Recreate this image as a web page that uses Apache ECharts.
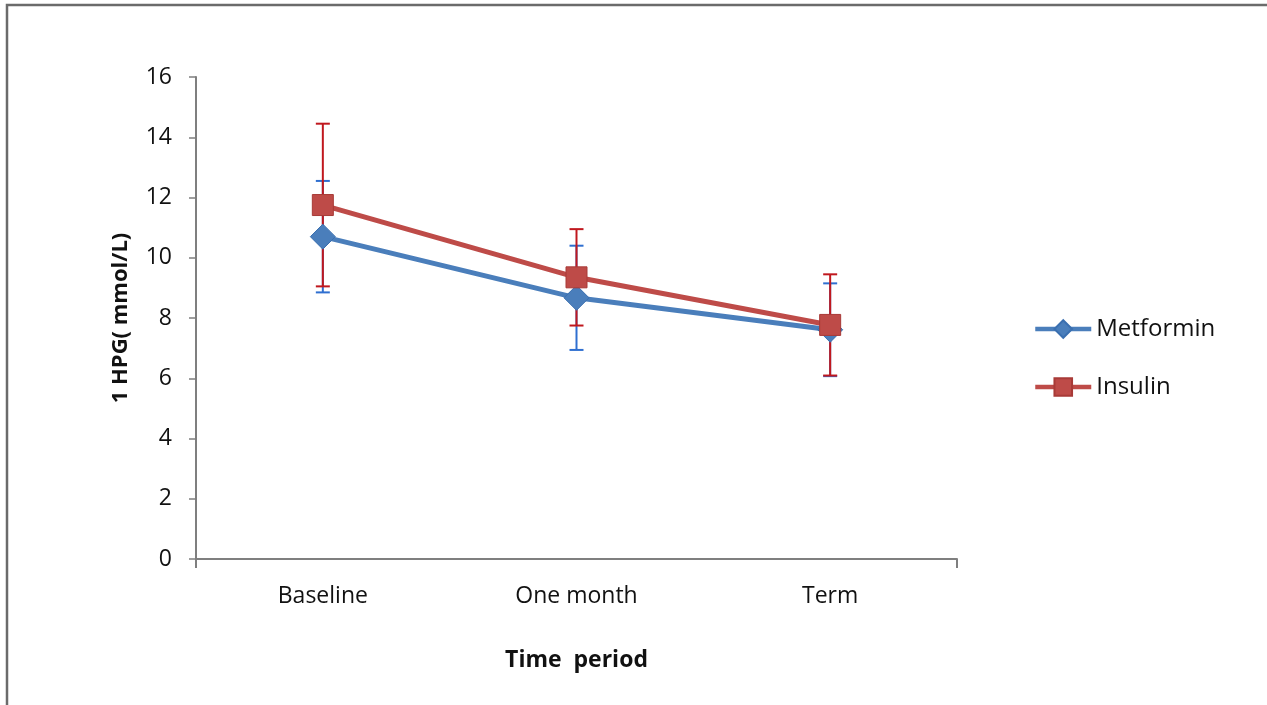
<!DOCTYPE html>
<html><head><meta charset="utf-8">
<script src="https://cdn.jsdelivr.net/npm/echarts@6/dist/echarts.min.js"></script>
<style>html,body{margin:0;padding:0;background:#fff}#c{width:1267px;height:705px}</style>
</head><body><div id="c"></div>
<script>
var categories = ['Baseline', 'One month', 'Term'];
var metforminMean = [10.7, 8.67, 7.61];
var metforminErr = [1.85, 1.73, 1.54];
var insulinMean = [11.75, 9.35, 7.77];
var insulinErr = [2.7, 1.6, 1.68];
var yTicks = [0, 2, 4, 6, 8, 10, 12, 14, 16];

var BLUE = '#4A7EBB', RED = '#BE4B48';
var BLUE_ERR = '#2F6FD0', RED_ERR = '#C0181E';
var FONT = 'Open Sans';

function errData(mean, err) {
  return mean.map(function (m, i) { return [i, m - err[i], m + err[i]]; });
}
function errSeries(name, mean, err, color) {
  return {
    type: 'custom', name: name + ' err', z: 1, silent: true,
    data: errData(mean, err),
    encode: { x: 0, y: [1, 2] },
    renderItem: function (params, api) {
      var lo = api.coord([api.value(0), api.value(1)]);
      var hi = api.coord([api.value(0), api.value(2)]);
      var w = 7;
      var st = { stroke: color, lineWidth: 2 };
      return { type: 'group', children: [
        { type: 'line', shape: { x1: lo[0], y1: lo[1], x2: hi[0], y2: hi[1] }, style: st },
        { type: 'line', shape: { x1: lo[0] - w, y1: lo[1], x2: lo[0] + w, y2: lo[1] }, style: st },
        { type: 'line', shape: { x1: hi[0] - w, y1: hi[1], x2: hi[0] + w, y2: hi[1] }, style: st }
      ]};
    }
  };
}

var chart = echarts.init(document.getElementById('c'));
chart.setOption({
  animation: false,
  backgroundColor: '#fff',
  graphic: [{ type: 'rect', shape: { x: 7, y: 5, width: 1280, height: 720 },
    style: { fill: 'none', stroke: '#6b6b6b', lineWidth: 2.5 }, silent: true }],
  grid: { left: 196, right: 310, top: 77, bottom: 146 },
  legend: {
    orient: 'vertical', left: 1028, top: 312, itemGap: 34,
    itemWidth: 56, itemHeight: 22,
    lineStyle: { width: 4.5 },
    textStyle: { fontFamily: FONT, fontSize: 24, color: '#111' },
    data: ['Metformin', 'Insulin']
  },
  xAxis: [{
    type: 'category', data: categories, boundaryGap: true,
    axisLine: { lineStyle: { color: '#7f7f7f', width: 2 } },
    axisTick: { show: false },
    axisLabel: { fontFamily: FONT, fontSize: 23, color: '#111', margin: 26 },
    name: 'Time  period', nameLocation: 'middle', nameGap: 90,
    nameTextStyle: { fontFamily: FONT, fontSize: 23, fontWeight: 'bold', color: '#111' }
  }, {
    type: 'value', position: 'bottom', min: 0, max: 3, interval: 3,
    axisLine: { show: false }, splitLine: { show: false },
    axisLabel: { show: false },
    axisTick: { show: true, length: 9, lineStyle: { color: '#7f7f7f', width: 2 } }
  }],
  yAxis: {
    type: 'value', min: yTicks[0], max: yTicks[yTicks.length - 1], interval: 2,
    splitLine: { show: false },
    axisLine: { show: true, lineStyle: { color: '#7f7f7f', width: 2 } },
    axisTick: { show: true, length: 7, lineStyle: { color: '#7f7f7f', width: 1.5 } },
    axisLabel: { fontFamily: FONT, fontSize: 23, color: '#111', margin: 24 },
    name: '1 HPG( mmol/L)', nameLocation: 'middle', nameGap: 64,
    nameTextStyle: { fontFamily: FONT, fontSize: 22, fontWeight: 'bold', color: '#111' }
  },
  series: [
    errSeries('Metformin', metforminMean, metforminErr, BLUE_ERR),
    errSeries('Insulin', insulinMean, insulinErr, RED_ERR),
    {
      name: 'Metformin', type: 'line', z: 3, data: metforminMean,
      symbol: 'diamond', symbolSize: 25,
      lineStyle: { color: BLUE, width: 5 },
      itemStyle: { color: BLUE, borderColor: '#3a6fb0', borderWidth: 1 }
    },
    {
      name: 'Insulin', type: 'line', z: 4, data: insulinMean,
      symbol: 'rect', symbolSize: 21,
      lineStyle: { color: RED, width: 5 },
      itemStyle: { color: RED, borderColor: '#a83a37', borderWidth: 1 }
    }
  ]
});
</script></body></html>
